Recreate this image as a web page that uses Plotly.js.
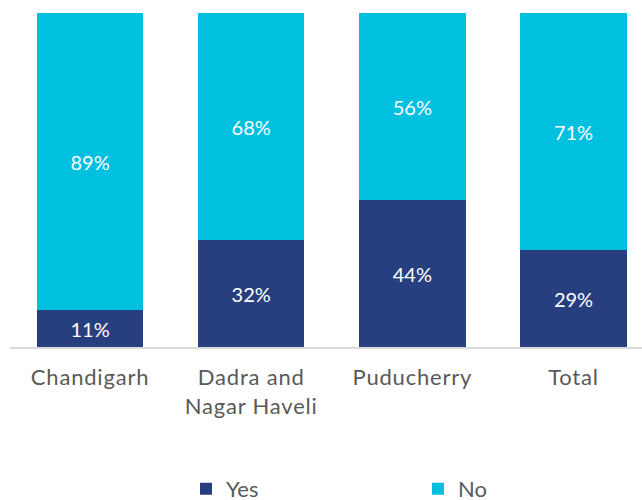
<!DOCTYPE html>
<html>
<head>
<meta charset="utf-8">
<script src="https://cdn.plot.ly/plotly-3.0.1.min.js"></script>
<style>
html,body{margin:0;padding:0;background:#fff;overflow:hidden;}
#chart{width:670px;height:512px;}
#chart .xtick text{letter-spacing:0.8px;}
</style>
</head>
<body>
<div id="chart"></div>
<script>
var categories = ["Chandigarh", "Dadra and<br>Nagar Haveli", "Puducherry", "Total"];
var yesValues = [11, 32, 44, 29];
var noValues = [89, 68, 56, 71];
var seriesNames = ["Yes", "No"];

function pct(arr) { return arr.map(function (v) { return v + "%"; }); }

var common = {
  type: "bar",
  x: categories,
  textposition: "inside",
  insidetextanchor: "middle",
  textfont: { family: "Lato, sans-serif", size: 20, color: "#ffffff" },
  hoverinfo: "skip"
};

var traces = [
  Object.assign({}, common, {
    name: seriesNames[0], y: yesValues, text: pct(yesValues),
    marker: { color: "#283F7F" }
  }),
  Object.assign({}, common, {
    name: seriesNames[1], y: noValues, text: pct(noValues),
    marker: { color: "#00BFDF" }
  })
];

var layout = {
  width: 670, height: 512,
  margin: { l: 10, r: 0, t: 13, b: 165 },
  paper_bgcolor: "#ffffff", plot_bgcolor: "#ffffff",
  barmode: "stack",
  bargap: 0.34,
  font: { family: "Lato, sans-serif", color: "#595959", size: 21 },
  xaxis: {
    type: "category",
    range: [-0.497, 3.599],
    showline: true, linecolor: "#d9d9d9", linewidth: 2,
    ticks: "", showgrid: false, zeroline: false,
    tickfont: { family: "Lato, sans-serif", size: 22, color: "#595959" },
    ticklabelstandoff: 10
  },
  yaxis: { range: [0, 100], visible: false, showgrid: false, zeroline: false },
  showlegend: true,
  legend: {
    orientation: "h", x: 0.2667, xanchor: "left", y: -0.425, yanchor: "middle",
    entrywidth: 187, entrywidthmode: "pixels", itemwidth: 30,
    font: { family: "Lato, sans-serif", size: 22, color: "#595959" },
    traceorder: "normal"
  }
};

Plotly.newPlot("chart", traces, layout, { displayModeBar: false, staticPlot: true });
</script>
</body>
</html>
